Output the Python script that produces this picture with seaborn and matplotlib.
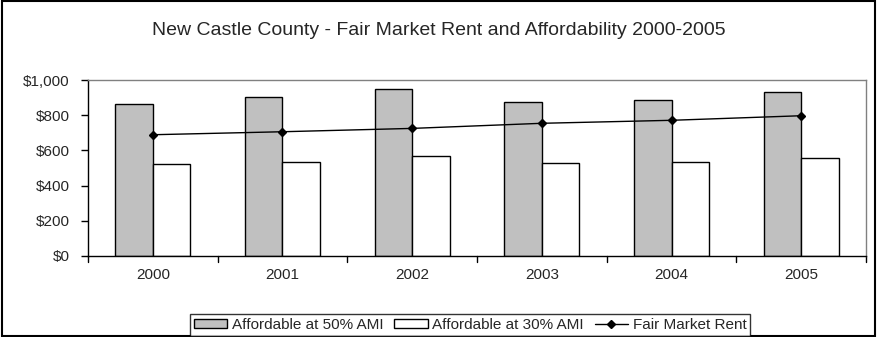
import seaborn as sns
import matplotlib.pyplot as plt
import pandas as pd
from matplotlib.patches import Rectangle

years = ['2000', '2001', '2002', '2003', '2004', '2005']
afford_50 = [862, 902, 949, 873, 888, 930]
afford_30 = [521, 536, 568, 527, 534, 555]
fair_rent = [689, 706, 725, 754, 771, 797]

df = pd.DataFrame({
    'year': years * 2,
    'value': afford_50 + afford_30,
    'series': ['Affordable at 50% AMI'] * 6 + ['Affordable at 30% AMI'] * 6,
})

sns.set_style('white')
plt.rcParams['font.family'] = ['Liberation Sans', 'DejaVu Sans']

fig = plt.figure(figsize=(8.77, 3.37), dpi=100)
ax = fig.add_axes([0.1003, 0.2404, 0.8872, 0.5222])

sns.barplot(data=df, x='year', y='value', hue='series', ax=ax,
            palette=['#c0c0c0', 'white'], edgecolor='black', linewidth=1,
            width=0.58, gap=0, saturation=1, legend=False)
rent_line, = ax.plot(years, fair_rent, color='black', linewidth=1, marker='D',
                     markersize=4, label='Fair Market Rent')

ax.set_xlim(-0.5, 5.5)
ax.set_ylim(0, 1000)
ax.set_yticks(range(0, 1001, 200))
ax.set_yticklabels(['${:,}'.format(v) for v in range(0, 1001, 200)], fontsize=11)
ax.set_xlabel('')
ax.set_ylabel('')
ax.tick_params(axis='x', length=0, labelsize=11, pad=9)
ax.tick_params(axis='y', left=True, length=5, width=1, color='black',
               direction='out', pad=8)
# category boundary ticks on the x axis
for b in [x + 0.5 for x in range(-1, 6)]:
    ax.plot([b, b], [0, -34], color='black', linewidth=1, clip_on=False)

ax.spines['left'].set_color('black')
ax.spines['bottom'].set_color('black')
ax.spines['top'].set_color('#808080')
ax.spines['right'].set_color('#808080')
for s in ax.spines.values():
    s.set_linewidth(1)

fig.text(0.5, 0.91, 'New Castle County - Fair Market Rent and Affordability 2000-2005',
         ha='center', va='center', fontsize=14)

handles = [Rectangle((0, 0), 1, 1, facecolor='#c0c0c0', edgecolor='black'),
           Rectangle((0, 0), 1, 1, facecolor='white', edgecolor='black'),
           rent_line]
labels = ['Affordable at 50% AMI', 'Affordable at 30% AMI', 'Fair Market Rent']
leg = fig.legend(handles, labels, loc='center', bbox_to_anchor=(0.536, 0.036),
                 ncol=3, fontsize=11, frameon=True, fancybox=False,
                 edgecolor='black', handlelength=2.2, handleheight=0.5,
                 handletextpad=0.3, columnspacing=0.7, borderpad=0.25)
leg.get_frame().set_linewidth(1)

fig.patches.append(Rectangle((0.002, 0.003), 0.996, 0.994, transform=fig.transFigure,
                             fill=False, edgecolor='black', linewidth=1.5))

fig.savefig('out.png', dpi=100)
